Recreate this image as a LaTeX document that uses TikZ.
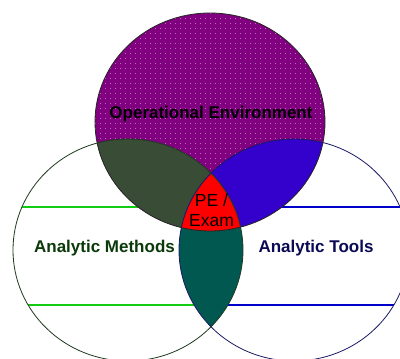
\documentclass[tikz,border=0pt]{standalone}
\usepackage{fontspec}
\setmainfont{Liberation Sans}
\usetikzlibrary{patterns}

% fine grid of light dots laid over the violet disc
\pgfdeclarepatternformonly{pedots}{\pgfqpoint{-1pt}{-1pt}}{\pgfqpoint{1pt}{1pt}}{\pgfqpoint{5pt}{5pt}}{%
  \pgfpathrectangle{\pgfqpoint{-0.5pt}{-0.5pt}}{\pgfqpoint{1pt}{1pt}}\pgfusepath{fill}}

\definecolor{opviolet}{HTML}{800080}
\definecolor{dotcol}{HTML}{B870B8}
\definecolor{methgreen}{HTML}{384C36}
\definecolor{toolblue}{HTML}{3300CC}
\definecolor{lensteal}{HTML}{005850}
\definecolor{coreRed}{HTML}{FF0000}
\definecolor{methrule}{HTML}{11CC11}
\definecolor{toolrule}{HTML}{0000CC}
\definecolor{methedge}{HTML}{1E3A1E}
\definecolor{tooledge}{HTML}{1A1A66}
\definecolor{methtext}{HTML}{0A3A0A}
\definecolor{tooltext}{HTML}{0A0A55}

\tikzset{
  label/.style={font=\fontsize{17}{20}\selectfont\bfseries, inner sep=0pt},
  corelabel/.style={font=\fontsize{17.5}{20}\selectfont, align=center, inner sep=0pt},
  methline/.style={draw=methrule, line width=1.2pt},
  toolline/.style={draw=toolrule, line width=1.2pt},
}

\begin{document}
\begin{tikzpicture}[x=1pt,y=1pt]
\useasboundingbox (0,0) rectangle (400,359);
\fill[white] (0,0) rectangle (400,359);

\coordinate (topc) at (210,237);
\coordinate (leftc) at (128,109);
\coordinate (rightc) at (294,109);

% ruled bands inside the two lower circles
\begin{scope}
  \clip (leftc) ellipse [x radius=115, y radius=111];
  \coordinate (m1a) at (0,152); \coordinate (m1b) at (260,152);
  \coordinate (m2a) at (0,54);  \coordinate (m2b) at (260,54);
  \draw[methline] (m1a) -- (m1b);
  \draw[methline] (m2a) -- (m2b);
\end{scope}
\begin{scope}
  \clip (rightc) ellipse [x radius=115, y radius=111];
  \coordinate (t1a) at (160,152); \coordinate (t1b) at (400,152);
  \coordinate (t2a) at (160,54);  \coordinate (t2b) at (400,54);
  \draw[toolline] (t1a) -- (t1b);
  \draw[toolline] (t2a) -- (t2b);
\end{scope}

% top disc
\fill[opviolet] (topc) ellipse [x radius=115, y radius=109];
\fill[pattern=pedots, pattern color=dotcol] (topc) ellipse [x radius=115, y radius=109];

% top and left overlap
\begin{scope}
  \clip (topc) ellipse [x radius=115, y radius=109];
  \fill[methgreen] (leftc) ellipse [x radius=115, y radius=111];
\end{scope}
% top and right overlap
\begin{scope}
  \clip (topc) ellipse [x radius=115, y radius=109];
  \fill[toolblue] (rightc) ellipse [x radius=115, y radius=111];
\end{scope}
% left and right overlap
\begin{scope}
  \clip (leftc) ellipse [x radius=115, y radius=111];
  \fill[lensteal] (rightc) ellipse [x radius=115, y radius=111];
\end{scope}
% centre, inside all three
\begin{scope}
  \clip (topc) ellipse [x radius=115, y radius=109];
  \clip (leftc) ellipse [x radius=115, y radius=111];
  \fill[coreRed] (rightc) ellipse [x radius=115, y radius=111];
\end{scope}

% outlines
\draw[methedge, line width=0.8pt] (leftc) ellipse [x radius=115, y radius=111];
\draw[tooledge, line width=0.8pt] (rightc) ellipse [x radius=115, y radius=111];
\draw[black!85, line width=0.8pt] (topc) ellipse [x radius=115, y radius=109];

% labels
\node[label, text=black] (env) at (211,245) {Operational Environment};
\node[label, text=methtext] (meth) at (104.5,111) {Analytic Methods};
\node[label, text=tooltext] (tools) at (316,111) {Analytic Tools};
\node[corelabel, text=black] (core) at (211.5,149) {PE /\\Exam};
\end{tikzpicture}
\end{document}
